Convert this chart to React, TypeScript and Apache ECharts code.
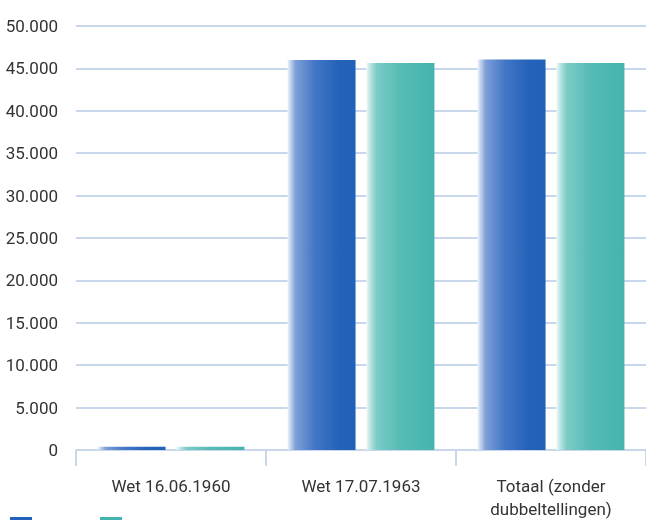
import React, { useEffect, useRef } from "react";
import * as echarts from "echarts";

const categories = ["Wet 16.06.1960", "Wet 17.07.1963", "Totaal (zonder\ndubbeltellingen)"];
const seriesNames = ["Mannen", "Vrouwen"];
const seriesA = [380, 46000, 46050];
const seriesB = [370, 45650, 45650];
const yTicks = { min: 0, max: 50000, interval: 5000 };

const fmt = (v: number) => String(v).replace(/\B(?=(\d{3})+(?!\d))/g, ".");

export default function App() {
  const ref = useRef<HTMLDivElement>(null);
  useEffect(() => {
    if (!ref.current) return;
    const chart = echarts.init(ref.current, null, { renderer: "svg" });
    const blue = new echarts.graphic.LinearGradient(0, 0, 1, 0, [
      { offset: 0, color: "#eef3fb" },
      { offset: 0.04, color: "#c6d5ef" },
      { offset: 0.12, color: "#7d9ed8" },
      { offset: 0.4, color: "#4377c6" },
      { offset: 0.75, color: "#2462b8" },
      { offset: 1, color: "#2261b8" },
    ]);
    const teal = new echarts.graphic.LinearGradient(0, 0, 1, 0, [
      { offset: 0, color: "#eef9f8" },
      { offset: 0.05, color: "#bfe6e3" },
      { offset: 0.15, color: "#7ccbc6" },
      { offset: 0.5, color: "#56bbb5" },
      { offset: 1, color: "#45b4ae" },
    ]);
    const lineColor = "#c8d7ec";
    chart.setOption({
      animation: false,
      textStyle: { fontFamily: "Roboto" },
      legend: {
        left: 10,
        top: 517,
        padding: 0,
        itemWidth: 22,
        itemHeight: 14,
        itemGap: 63,
        icon: "rect",
        formatter: () => "",
        textStyle: { fontSize: 1, lineHeight: 14 },
        data: [
          { name: seriesNames[0], itemStyle: { color: "#2261b8" } },
          { name: seriesNames[1], itemStyle: { color: "#45b4ae" } },
        ],
      },
      grid: { left: 76, right: 0, top: 26, bottom: 67, containLabel: false },
      xAxis: {
        type: "category",
        data: categories,
        axisLine: { show: true, lineStyle: { color: lineColor, width: 2 } },
        axisTick: { show: true, length: 16, lineStyle: { color: lineColor, width: 2 } },
        axisLabel: { color: "#333", fontSize: 17, margin: 24, lineHeight: 23 },
      },
      yAxis: {
        type: "value",
        min: yTicks.min,
        max: yTicks.max,
        interval: yTicks.interval,
        axisLine: { show: false },
        axisTick: { show: false },
        splitLine: { lineStyle: { color: lineColor, width: 2 } },
        axisLabel: { color: "#333", fontSize: 17, margin: 18, formatter: (v: number) => fmt(v) },
      },
      series: [
        {
          name: seriesNames[0],
          type: "bar",
          data: seriesA,
          barWidth: 68,
          barGap: "16%",
          itemStyle: { color: blue },
        },
        {
          name: seriesNames[1],
          type: "bar",
          data: seriesB,
          barWidth: 68,
          barGap: "16%",
          itemStyle: { color: teal },
        },
      ],
    });
    return () => chart.dispose();
  }, []);
  return (
    <div
      ref={ref}
      style={{ position: "fixed", left: 0, top: 0, width: 646, height: 520 }}
    />
  );
}
